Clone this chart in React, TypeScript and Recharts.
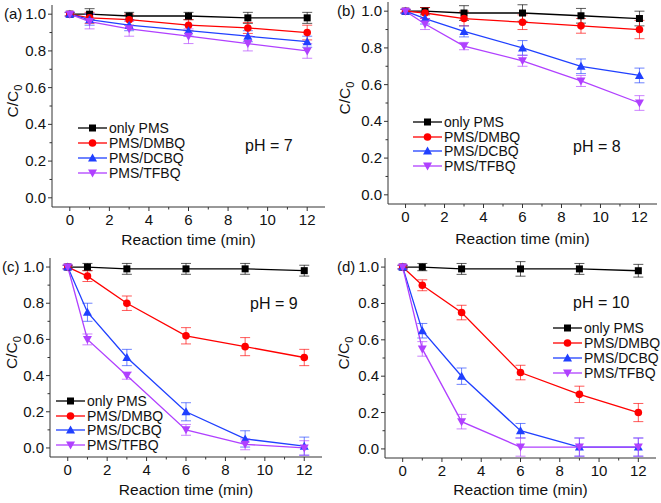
import React from 'react';
import { LineChart, Line, XAxis, YAxis, ErrorBar } from 'recharts';

const times = [0, 1, 3, 6, 9, 12];
const seriesNames = ['only PMS', 'PMS/DMBQ', 'PMS/DCBQ', 'PMS/TFBQ'];
const xTicks = [0, 1, 2, 3, 4, 5, 6, 7, 8, 9, 10, 11, 12];
const yTicks = [0, 0.1, 0.2, 0.3, 0.4, 0.5, 0.6, 0.7, 0.8, 0.9, 1.0];

// pH = 7
const ph7Values = [
  [1.0, 1.0, 0.99, 0.99, 0.98, 0.98],
  [1.0, 0.98, 0.97, 0.94, 0.925, 0.9],
  [1.0, 0.97, 0.94, 0.91, 0.88, 0.85],
  [1.0, 0.96, 0.92, 0.88, 0.84, 0.8],
];
const ph7Errors = [
  [0.01, 0.03, 0.02, 0.02, 0.03, 0.03],
  [0.01, 0.03, 0.03, 0.03, 0.03, 0.04],
  [0.01, 0.03, 0.03, 0.03, 0.03, 0.03],
  [0.01, 0.04, 0.04, 0.04, 0.04, 0.04],
];

// pH = 8
const ph8Values = [
  [1.0, 1.0, 0.99, 0.99, 0.975, 0.96],
  [1.0, 0.99, 0.96, 0.94, 0.92, 0.9],
  [1.0, 0.96, 0.89, 0.8, 0.7, 0.65],
  [1.0, 0.93, 0.81, 0.73, 0.62, 0.5],
];
const ph8Errors = [
  [0.01, 0.02, 0.04, 0.045, 0.04, 0.04],
  [0.01, 0.03, 0.04, 0.04, 0.04, 0.05],
  [0.01, 0.03, 0.03, 0.04, 0.04, 0.04],
  [0.01, 0.03, 0.02, 0.03, 0.03, 0.04],
];

// pH = 9
const ph9Values = [
  [1.0, 1.0, 0.99, 0.99, 0.99, 0.98],
  [1.0, 0.95, 0.8, 0.62, 0.56, 0.5],
  [1.0, 0.75, 0.5, 0.2, 0.05, 0.01],
  [1.0, 0.6, 0.4, 0.1, 0.02, 0.0],
];
const ph9Errors = [
  [0.01, 0.02, 0.03, 0.03, 0.03, 0.03],
  [0.01, 0.03, 0.04, 0.045, 0.05, 0.045],
  [0.01, 0.05, 0.045, 0.05, 0.045, 0.05],
  [0.01, 0.03, 0.02, 0.03, 0.03, 0.04],
];

// pH = 10
const ph10Values = [
  [1.0, 1.0, 0.99, 0.99, 0.99, 0.98],
  [1.0, 0.9, 0.75, 0.42, 0.3, 0.2],
  [1.0, 0.65, 0.4, 0.1, 0.01, 0.01],
  [1.0, 0.55, 0.15, 0.01, 0.01, 0.01],
];
const ph10Errors = [
  [0.01, 0.02, 0.03, 0.04, 0.03, 0.035],
  [0.01, 0.03, 0.04, 0.04, 0.045, 0.05],
  [0.01, 0.04, 0.045, 0.04, 0.05, 0.05],
  [0.01, 0.04, 0.04, 0.05, 0.05, 0.05],
];

const colors = ['#000000', '#ff0000', '#2040ff', '#b040ff'];
const shapes = ['square', 'circle', 'up', 'down'];
const FONT = '"Liberation Sans", Arial, sans-serif';
const FRAME = '#333333';

const Marker = ({ shape, cx, cy, color }: any) => {
  if (cx == null || cy == null) return null;
  if (shape === 'square') return <rect x={cx - 3.5} y={cy - 3.5} width={7} height={7} fill={color} />;
  if (shape === 'circle') return <circle cx={cx} cy={cy} r={3.8} fill={color} />;
  if (shape === 'up')
    return <polygon points={`${cx},${cy - 4.5} ${cx - 4.5},${cy + 3.5} ${cx + 4.5},${cy + 3.5}`} fill={color} />;
  return <polygon points={`${cx},${cy + 4.5} ${cx - 4.5},${cy - 3.5} ${cx + 4.5},${cy - 3.5}`} fill={color} />;
};

const XTick = ({ x, y, payload }: any) => {
  const major = payload.value % 2 === 0;
  return (
    <g>
      <line x1={x} x2={x} y1={y} y2={y + (major ? 4 : 2.5)} stroke={FRAME} />
      {major && (
        <text x={x} y={y + 18} textAnchor="middle" fontSize={15} fontFamily={FONT} fill="#111">
          {payload.value}
        </text>
      )}
    </g>
  );
};

const YTick = ({ x, y, payload }: any) => {
  const major = Math.round(payload.value * 10) % 2 === 0;
  return (
    <g>
      <line x1={x} x2={x - (major ? 4 : 2.5)} y1={y} y2={y} stroke={FRAME} />
      {major && (
        <text x={x - 6} y={y + 5} textAnchor="end" fontSize={15} fontFamily={FONT} fill="#111">
          {payload.value.toFixed(1)}
        </text>
      )}
    </g>
  );
};

const XLabel = ({ viewBox, baseline }: any) => (
  <text x={viewBox.x + viewBox.width / 2} y={baseline} textAnchor="middle" fontSize={15.5} fontFamily={FONT} fill="#111">
    Reaction time (min)
  </text>
);

const YLabel = ({ viewBox, lx }: any) => {
  const cy = viewBox.y + viewBox.height / 2 - 5;
  return (
    <text transform={`translate(${lx},${cy}) rotate(-90)`} textAnchor="middle" fontSize={15.5} fontFamily={FONT} fill="#111">
      <tspan>C/C</tspan>
      <tspan dy={4} fontSize={11}>0</tspan>
    </text>
  );
};

const buildRows = (values: number[][], errors: number[][]) =>
  times.map((t, i) => {
    const row: any = { t };
    values.forEach((v, s) => {
      row[`s${s}`] = v[i];
      row[`e${s}`] = errors[s][i];
    });
    return row;
  });

const panels = [
  {
    tag: '(a)', ph: 'pH = 7', values: ph7Values, errors: ph7Errors,
    left: 0, top: 0, w: 330, h: 250, mt: 5, mr: 5, yW: 52, xH: 43, xBase: 245, lx: 18,
    tagX: 4, tagY: 14, phX: 245, phY: 146, legX: 78, legY: 128, legGap: 15,
  },
  {
    tag: '(b)', ph: 'pH = 8', values: ph8Values, errors: ph8Errors,
    left: 330, top: 0, w: 331, h: 250, mt: 2, mr: 4, yW: 58, xH: 46, xBase: 244, lx: 20,
    tagX: 337, tagY: 11, phX: 573, phY: 147, legX: 413, legY: 122, legGap: 14.7,
  },
  {
    tag: '(c)', ph: 'pH = 9', values: ph9Values, errors: ph9Errors,
    left: 0, top: 250, w: 330, h: 253, mt: 8, mr: 8, yW: 50, xH: 46, xBase: 245, lx: 17,
    tagX: 2, tagY: 267, phX: 250, phY: 304, legX: 56, legY: 401, legGap: 14.7,
  },
  {
    tag: '(d)', ph: 'pH = 10', values: ph10Values, errors: ph10Errors,
    left: 330, top: 250, w: 331, h: 253, mt: 8, mr: 5, yW: 55, xH: 45, xBase: 245, lx: 19,
    tagX: 337, tagY: 267, phX: 573, phY: 303, legX: 553, legY: 328, legGap: 15,
  },
];

const Panel = ({ p }: any) => {
  const rows = buildRows(p.values, p.errors);
  return (
    <div style={{ position: 'absolute', left: p.left, top: p.top, width: p.w, height: p.h }}>
      <LineChart width={p.w} height={p.h} data={rows} margin={{ top: p.mt, right: p.mr, left: 0, bottom: 0 }}>
        <XAxis
          dataKey="t"
          type="number"
          domain={[-0.9, 12.9]}
          ticks={xTicks}
          interval={0}
          height={p.xH}
          tickSize={0}
          tickMargin={0}
          tickLine={false}
          tick={<XTick />}
          axisLine={{ stroke: FRAME }}
          label={<XLabel baseline={p.xBase} />}
        />
        <XAxis xAxisId="top" orientation="top" type="number" domain={[-0.9, 12.9]} height={0} tick={false} tickLine={false} axisLine={{ stroke: FRAME }} />
        <YAxis
          type="number"
          domain={[-0.05, 1.05]}
          ticks={yTicks}
          interval={0}
          width={p.yW}
          tickSize={0}
          tickMargin={0}
          tickLine={false}
          tick={<YTick />}
          axisLine={{ stroke: FRAME }}
          label={<YLabel lx={p.lx} />}
        />
        <YAxis yAxisId="right" orientation="right" type="number" domain={[-0.05, 1.05]} width={0} tick={false} tickLine={false} axisLine={{ stroke: FRAME }} />
        {seriesNames.map((name, s) => (
          <Line
            key={name}
            name={name}
            dataKey={`s${s}`}
            stroke={colors[s]}
            strokeWidth={1.3}
            isAnimationActive={false}
            dot={(d: any) => <Marker key={`${s}-${d.index}`} shape={shapes[s]} cx={d.cx} cy={d.cy} color={colors[s]} />}
            activeDot={false}
          >
            <ErrorBar dataKey={`e${s}`} width={5} stroke={colors[s]} strokeOpacity={0.65} strokeWidth={1} direction="y" />
          </Line>
        ))}
      </LineChart>
    </div>
  );
};

const Overlay = ({ p }: any) => (
  <>
    <div style={{ position: 'absolute', left: p.tagX, top: p.tagY - 9, lineHeight: '18px', fontSize: 15, fontFamily: FONT, color: '#111' }}>
      {p.tag}
    </div>
    <div style={{ position: 'absolute', left: p.phX, top: p.phY - 10, lineHeight: '20px', fontSize: 16, fontFamily: FONT, color: '#111', whiteSpace: 'nowrap' }}>
      {p.ph}
    </div>
    {seriesNames.map((name, s) => (
      <div
        key={name}
        style={{
          position: 'absolute', left: p.legX, top: p.legY + s * p.legGap - 8, height: 16,
          display: 'flex', alignItems: 'center', fontSize: 14, fontFamily: FONT, color: '#111', whiteSpace: 'nowrap',
        }}
      >
        <svg width={31} height={16}>
          <line x1={0} x2={29} y1={8} y2={8} stroke={colors[s]} strokeWidth={1.3} />
          <Marker shape={shapes[s]} cx={14.5} cy={8} color={colors[s]} />
        </svg>
        <span>{name}</span>
      </div>
    ))}
  </>
);

export default function App() {
  return (
    <div style={{ position: 'absolute', left: 0, top: 0, width: 661, height: 503, background: '#fff', overflow: 'hidden' }}>
      {panels.map((p) => (
        <Panel key={p.tag} p={p} />
      ))}
      {panels.map((p) => (
        <Overlay key={p.tag} p={p} />
      ))}
    </div>
  );
}
